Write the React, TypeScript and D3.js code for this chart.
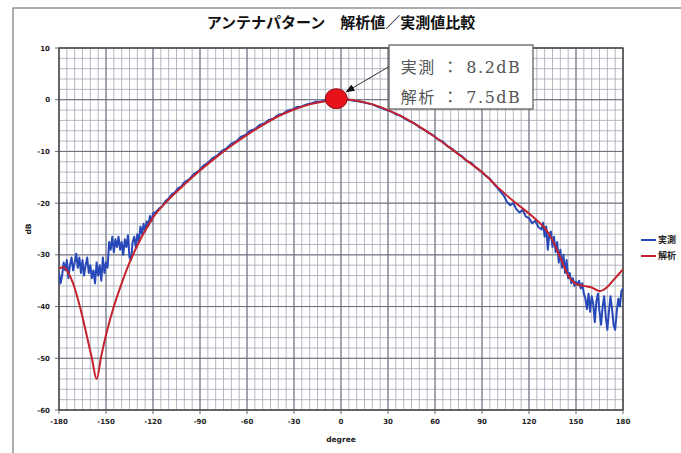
import React from "react";
import * as d3 from "d3";

const TITLE = "アンテナパターン　解析値／実測値比較";
const X_TICKS = [-180, -150, -120, -90, -60, -30, 0, 30, 60, 90, 120, 150, 180];
const Y_TICKS = [10, 0, -10, -20, -30, -40, -50, -60];
const SERIES_NAMES = ["実測", "解析"];
const ANNOT_LINES = ["実測 ： 8.2dB", "解析 ： 7.5dB"];

// 解析 (analysis) – smooth curve
const calcDeg = [-180, -177, -174, -171, -168, -165, -162, -159, -156, -153, -150, -145, -140, -135, -130, -125, -120, -110, -100, -90, -80, -70, -60, -50, -40, -30, -20, -10, 0, 4, 10, 20, 30, 40, 50, 60, 70, 80, 90, 100, 110, 115, 120, 125, 130, 135, 140, 145, 150, 155, 160, 165, 170, 175, 180];
const calcDb = [-32.6, -32.4, -33.5, -35.5, -38.5, -42, -46, -50, -54, -49.5, -45.5, -40, -35.5, -31.5, -28.2, -25.3, -22.8, -19.3, -16.4, -13.7, -11.2, -8.9, -6.8, -4.9, -3.2, -1.9, -0.9, -0.3, 0, 0.05, -0.2, -0.9, -2.0, -3.4, -5.2, -7.2, -9.4, -11.7, -14.0, -16.9, -19.6, -20.8, -22.0, -23.3, -24.8, -27.2, -30.5, -34, -35.6, -36, -36.3, -37, -36.2, -34.5, -32.8];

// 実測 (measured) – noisy
const measDeg = [-180, -179, -178, -177, -176, -175, -174, -173, -172, -171, -170, -169, -168, -167, -166, -165, -164, -163, -162, -161, -160, -159, -158, -157, -156, -155, -154, -153, -152, -151, -150, -149, -148, -147, -146, -145, -144, -143, -142, -141, -140, -139, -138, -137, -136, -135, -134, -133, -132, -131, -130, -129, -128, -127, -126, -125, -124, -123, -122, -121, -120, -118, -116, -114, -112, -110, -108, -106, -104, -102, -100, -97, -94, -91, -88, -85, -82, -79, -76, -73, -70, -67, -64, -61, -58, -55, -52, -49, -46, -43, -40, -37, -34, -31, -28, -25, -22, -19, -16, -13, -10, -7, -4, -1, 2, 5, 8, 11, 14, 17, 20, 23, 26, 29, 32, 35, 38, 41, 44, 47, 50, 53, 56, 59, 62, 65, 68, 71, 74, 77, 80, 83, 86, 89, 92, 95, 98, 101, 104, 106, 108, 110, 112, 114, 116, 118, 120, 122, 124, 126, 128, 129, 130, 131, 132, 133, 134, 135, 136, 137, 138, 139, 140, 141, 142, 143, 144, 145, 146, 147, 148, 149, 150, 151, 152, 153, 154, 155, 156, 157, 158, 159, 160, 161, 162, 163, 164, 165, 166, 167, 168, 169, 170, 171, 172, 173, 174, 175, 176, 177, 178, 179, 180];
const measDb = [-33.5, -35.5, -34, -31.5, -33, -31, -34.5, -32, -30.5, -33, -31.5, -29.8, -32.5, -30.5, -33.5, -31, -34, -32, -30.5, -33.5, -32, -34.5, -33, -35.5, -31.5, -34, -32, -35, -30.5, -33.5, -31.5, -32.5, -27.5, -29, -26.5, -29.5, -27, -28.5, -26.5, -29, -27.5, -30, -27, -28.5, -26.2, -30.5, -31, -27.5, -26.5, -28.5, -26, -27.5, -24.5, -26, -24, -25.5, -23.5, -24.5, -22.5, -23.5, -22, -21.7, -21.0, -20.6, -19.6, -19.1, -18.3, -17.9, -17.1, -16.8, -16.0, -15.4, -14.4, -13.8, -12.8, -12.2, -11.3, -10.8, -9.9, -9.4, -8.5, -8.1, -7.2, -6.8, -6.0, -5.7, -4.9, -4.6, -3.9, -3.6, -2.9, -2.7, -2.1, -1.9, -1.4, -1.3, -0.9, -0.7, -0.4, -0.4, -0.1, -0.1, 0.1, 0, 0.1, 0, -0.2, -0.3, -0.5, -0.7, -0.9, -1.3, -1.6, -2.0, -2.3, -2.8, -3.1, -3.7, -4.2, -4.6, -5.3, -5.8, -6.4, -6.9, -7.7, -8.1, -9.0, -9.5, -10.3, -10.9, -11.8, -12.2, -13.1, -13.8, -14.6, -15.3, -16.4, -17.5, -18.6, -19.8, -20.4, -20.0, -21.2, -21.8, -21.3, -22.6, -22.9, -23.9, -23.4, -24.6, -25.1, -23.8, -26.5, -24.5, -29, -26, -25.5, -28.5, -26.5, -29.5, -27.5, -31.5, -29, -32.5, -30, -33.5, -31, -34.5, -33.5, -35.5, -34.5, -36, -35.2, -35.8, -35, -36.5, -35.5, -37.5, -38.5, -40.5, -37.5, -41, -38, -39.5, -43, -39, -37.5, -41, -43.5, -40, -38, -42, -44.5, -41, -38, -40.5, -43.5, -44.5, -41, -38.5, -40, -37, -36.5];

const W = 681;
const H = 453;

export default function App() {
  const x = d3.scaleLinear().domain([-180, 180]).range([59, 623]);
  const y = d3.scaleLinear().domain([-60, 10]).range([410, 48]);

  const minorX = d3.range(-180, 181, 5);
  const minorY = d3.range(-60, 11, 2);

  const calc = calcDeg.map((d, i) => [d, calcDb[i]] as [number, number]);
  const meas = measDeg.map((d, i) => [d, measDb[i]] as [number, number]);

  const lineSmooth = d3
    .line<[number, number]>()
    .x((d) => x(d[0]))
    .y((d) => y(d[1]))
    .curve(d3.curveMonotoneX);
  const lineRaw = d3
    .line<[number, number]>()
    .x((d) => x(d[0]))
    .y((d) => y(d[1]));

  const [x0, x1] = x.range();
  const [y0, y1] = y.range();

  const blue = "#2748b8";
  const red = "#c4222c";
  const serif = "'DejaVu Serif', 'Liberation Serif', 'Noto Sans CJK JP', serif";
  const sans = "'Noto Sans CJK JP', 'DejaVu Sans', sans-serif";

  return (
    <svg
      width={W}
      height={H}
      style={{ position: "absolute", left: 0, top: 0, background: "#fff" }}
    >
      <defs>
        <marker id="ah" viewBox="0 0 10 10" refX="9" refY="5" markerWidth="9" markerHeight="9" orient="auto">
          <path d="M0,1 L10,5 L0,9 z" fill="#111" />
        </marker>
        <clipPath id="plot">
          <rect x={x0} y={y1} width={x1 - x0} height={y0 - y1} />
        </clipPath>
      </defs>
      <rect x={0} y={0} width={W} height={H} fill="#fff" />
      {/* outer frame */}
      <rect x={13} y={8} width={720} height={460} fill="none" stroke="#777" strokeWidth={1.2} />

      {/* title */}
      <text x={341} y={28} textAnchor="middle" fontFamily={sans} fontWeight="bold" fontSize={15} fill="#111">
        {TITLE}
      </text>

      {/* minor grid */}
      <g stroke="#a3a7b6" strokeWidth={0.8}>
        {minorX.map((v) => (
          <line key={"mx" + v} x1={x(v)} x2={x(v)} y1={y1} y2={y0} />
        ))}
        {minorY.map((v) => (
          <line key={"my" + v} x1={x0} x2={x1} y1={y(v)} y2={y(v)} />
        ))}
      </g>
      {/* major grid */}
      <g stroke="#6a6d78" strokeWidth={1}>
        {X_TICKS.map((v) => (
          <line key={"Mx" + v} x1={x(v)} x2={x(v)} y1={y1} y2={y0 + 4} />
        ))}
        {Y_TICKS.map((v) => (
          <line key={"My" + v} x1={x0 - 4} x2={x1} y1={y(v)} y2={y(v)} />
        ))}
      </g>
      <rect x={x0} y={y1} width={x1 - x0} height={y0 - y1} fill="none" stroke="#444" strokeWidth={1.3} />

      {/* ticks */}
      <g fontFamily="'DejaVu Sans', sans-serif" fontSize={7} fontWeight="bold" fill="#222">
        {X_TICKS.map((v) => (
          <text key={"tx" + v} x={x(v)} y={y0 + 14} textAnchor="middle">
            {v}
          </text>
        ))}
        {Y_TICKS.map((v) => (
          <text key={"ty" + v} x={x0 - 9} y={y(v) + 2.5} textAnchor="end">
            {v}
          </text>
        ))}
      </g>
      <text x={341} y={442} textAnchor="middle" fontFamily="'DejaVu Sans', sans-serif" fontSize={7.5} fontWeight="bold" fill="#222">
        degree
      </text>
      <text
        transform={`translate(31,${y(-25)}) rotate(-90)`}
        textAnchor="middle"
        fontFamily="'DejaVu Sans', sans-serif"
        fontSize={7.5}
        fontWeight="bold"
        fill="#222"
      >
        dB
      </text>

      {/* series */}
      <g clipPath="url(#plot)" fill="none" strokeLinejoin="round">
        <path d={lineRaw(meas) ?? ""} stroke={blue} strokeWidth={2} />
        <path d={lineSmooth(calc) ?? ""} stroke={red} strokeWidth={2} />
      </g>

      {/* peak marker */}
      <ellipse cx={x(-3)} cy={y(0.2)} rx={11} ry={10} fill="#e8121c" stroke="#8a0c10" strokeWidth={1} />

      {/* annotation */}
      <line x1={390} y1={66} x2={x(-3) + 10} y2={y(0.2) - 7} stroke="#333" strokeWidth={1} markerEnd="url(#ah)" />
      <rect x={389} y={45} width={144} height={64} fill="#fff" stroke="#555" strokeWidth={1.2} />
      {ANNOT_LINES.map((t, i) => (
        <text
          key={t}
          x={461}
          y={73 + i * 30}
          textAnchor="middle"
          fontFamily={serif}
          fontSize={16}
          fill="#555"
          letterSpacing={1.5}
        >
          {t}
        </text>
      ))}

      {/* legend */}
      {SERIES_NAMES.map((n, i) => (
        <g key={n}>
          <line x1={641} x2={656} y1={240 + i * 16} y2={240 + i * 16} stroke={i === 0 ? blue : red} strokeWidth={2} />
          <text x={658} y={243 + i * 16} fontFamily={sans} fontSize={9} fontWeight="bold" fill="#222">
            {n}
          </text>
        </g>
      ))}
    </svg>
  );
}
